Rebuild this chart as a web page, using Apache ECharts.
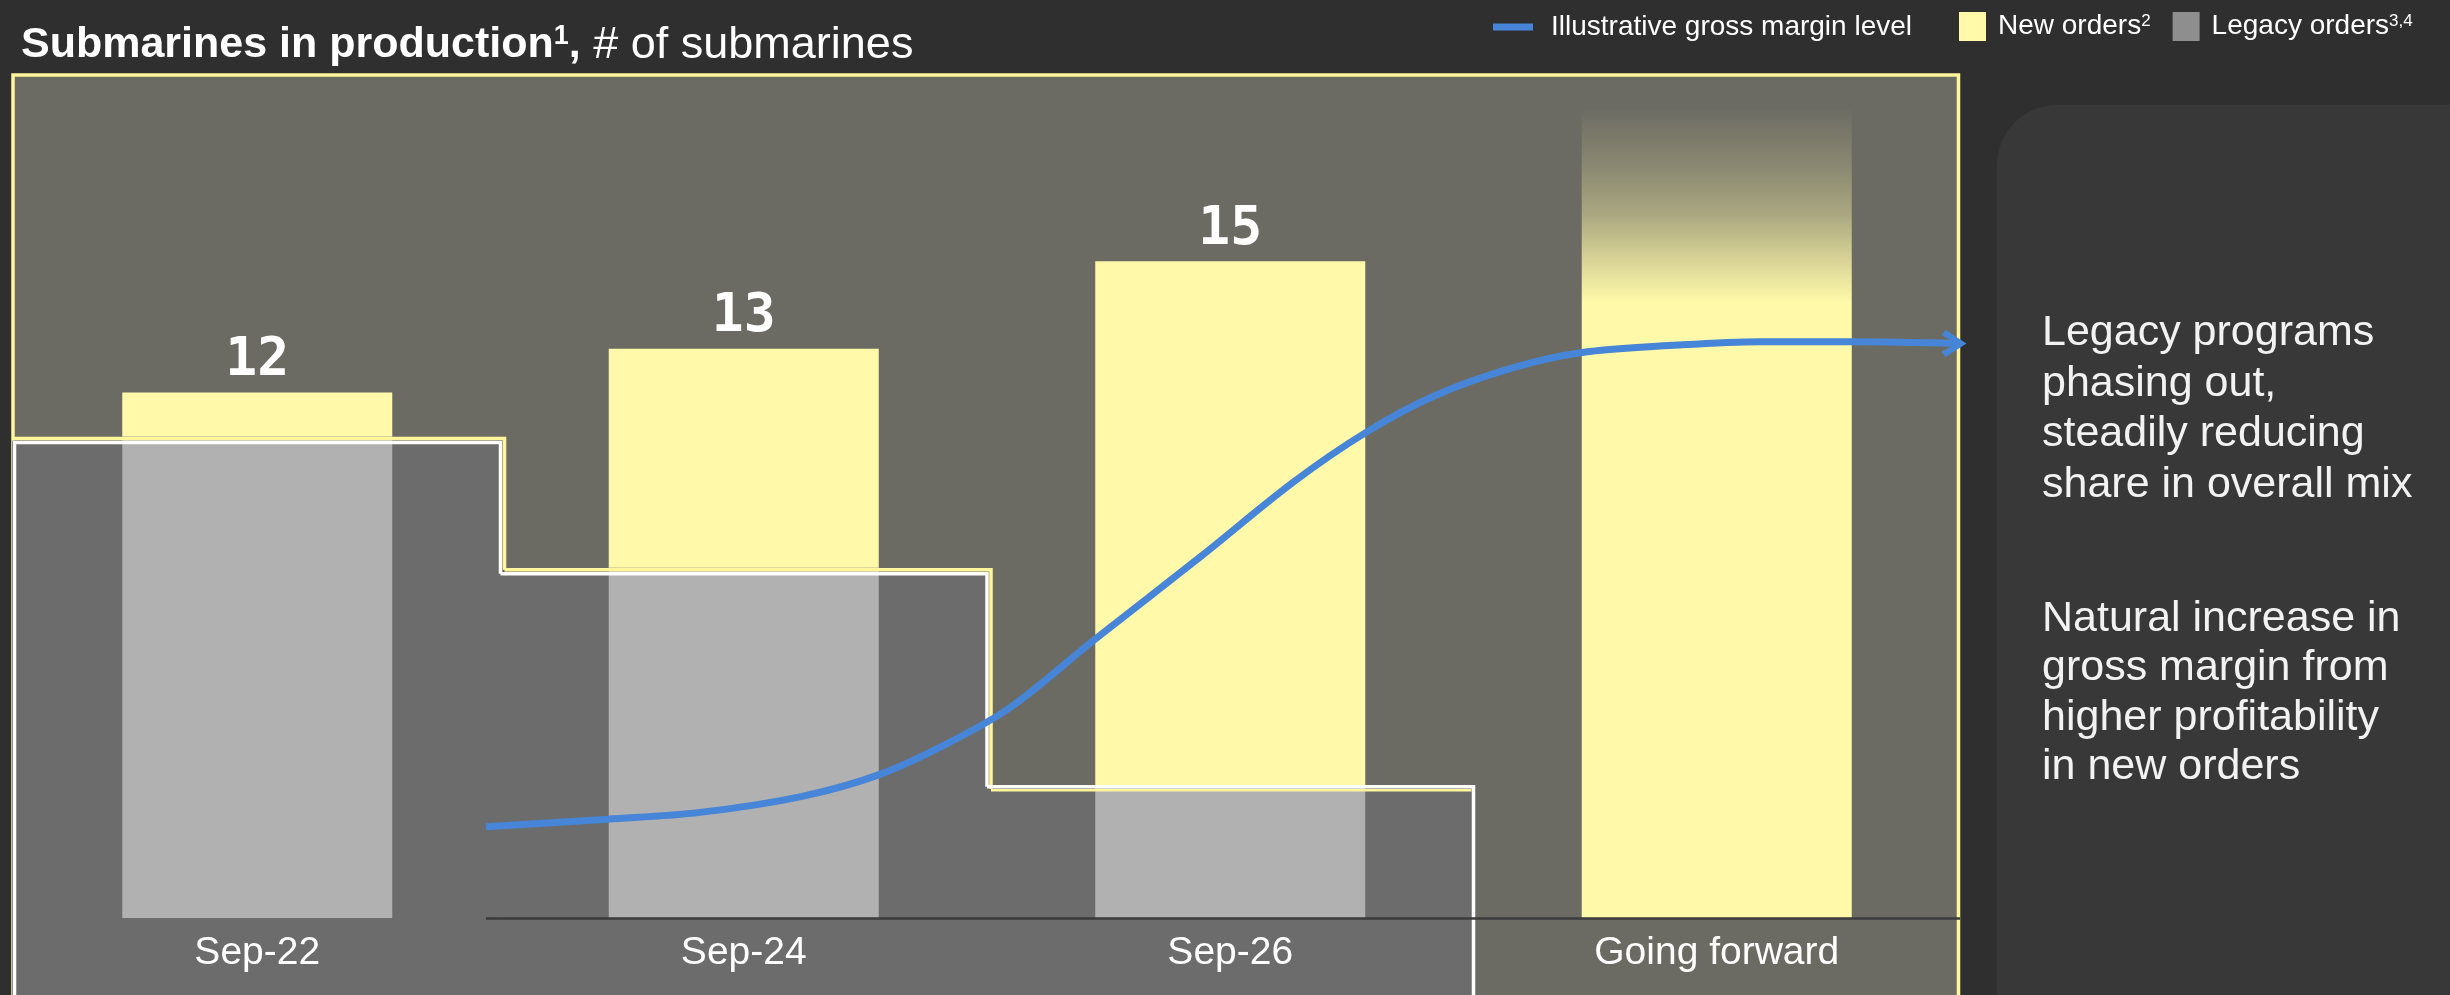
<!DOCTYPE html>
<html>
<head>
<meta charset="utf-8">
<script src="https://cdn.jsdelivr.net/npm/echarts@6/dist/echarts.min.js"></script>
<style>
  html, body { margin: 0; padding: 0; background: #2f2f2f; }
  #chart { width: 2450px; height: 995px; }
</style>
</head>
<body>
<div id="chart"></div>
<script>
// ---- data ----
const categories = ['Sep-22', 'Sep-24', 'Sep-26', 'Going forward'];
const legacyOrders = [11, 8, 3, 0];
const newOrders = [1, 5, 12, 18.5];
const labelledColumns = 3; // totals are printed above the first three columns

// illustrative gross margin curve: x in category units, level on a 0-100 index
const marginX = [0.47, 0.72, 0.91, 1.12, 1.28, 1.42, 1.55, 1.72, 1.94, 2.13, 2.28, 2.42, 2.58, 2.72, 2.92, 3.09, 3.28, 3.5];
const marginLevel = [10.8, 11.7, 12.5, 14.4, 17.0, 20.7, 25.0, 32.9, 42.8, 51.6, 57.5, 61.8, 65.1, 66.9, 67.8, 68.2, 68.2, 68.0];

const sideNotes = [
  'Legacy programs\nphasing out,\nsteadily reducing\nshare in overall mix',
  'Natural increase in\ngross margin from\nhigher profitability\nin new orders'
];

const totals = legacyOrders.map((v, i) => v + newOrders[i]);

// ---- colours ----
const YELLOW = '#fff9a9';
const BORDER_YELLOW = '#fff59a';
const LEGACY_BAR = '#b1b1b1';
const LEGACY_AREA = '#6c6c6c';
const BLUE = '#4685d7';

const chart = echarts.init(document.getElementById('chart'), null, { renderer: 'canvas' });

// grey stepped zone showing the legacy share of production
function legacyFill(params, api) {
  const i = params.dataIndex;
  const v = api.value(1);
  if (!v) return null;
  const p = api.coord([api.value(0), v]);
  const band = api.size([1, 0])[0];
  const x0 = p[0] - band / 2 - (i === 0 ? 2 : 0);
  const x1 = p[0] + band / 2;
  return {
    type: 'rect',
    shape: { x: x0, y: p[1] + 4, width: x1 - x0, height: 1200 },
    style: { fill: LEGACY_AREA }
  };
}

// white / yellow double outline of the stepped zone
function legacyOutline(params, api) {
  const i = params.dataIndex;
  const v = api.value(1);
  if (!v) return null;
  const p = api.coord([api.value(0), v]);
  const band = api.size([1, 0])[0];
  const x0 = p[0] - band / 2;
  const x1 = p[0] + band / 2;
  const floor = 1300;
  const next = legacyOrders[i + 1] || 0;
  const yNext = next ? api.coord([i + 1, next])[1] : null;
  const nextIsLast = next && !(legacyOrders[i + 2] || 0);

  const lastStep = yNext === null;
  const wy = lastStep ? p[1] : p[1] + 6;
  const yy = lastStep ? p[1] + 3.5 : p[1] + 2;
  const wNext = yNext === null ? floor : (nextIsLast ? yNext : yNext + 6);

  const white = [];
  if (i === 0) white.push([x0 + 0.5, floor]);
  white.push([i === 0 ? x0 + 0.5 : x0, wy], [x1, wy], [x1, wNext]);

  const yellow = [[i === 0 ? x0 - 2 : x0 + 4, yy], [lastStep ? x1 - 2 : x1 + 4, yy]];
  if (!lastStep) yellow.push([x1 + 4, yNext + 2]);

  return {
    type: 'group',
    children: [
      { type: 'polyline', shape: { points: yellow }, style: { stroke: BORDER_YELLOW, lineWidth: lastStep ? 2.5 : 3.5, fill: null } },
      { type: 'polyline', shape: { points: white }, style: { stroke: '#ffffff', lineWidth: 3.5, fill: null } }
    ]
  };
}

const chevron = 'path://M4,0 L25,13 L4,26 L0,21 L15,13 L0,5 Z';
const marginData = marginX.map((x, i) => {
  const last = i === marginX.length - 1;
  return last
    ? { value: [x, marginLevel[i]], symbol: chevron, symbolSize: [25, 27], symbolOffset: [-6, 0] }
    : { value: [x, marginLevel[i]], symbol: 'none' };
});

const newOrderData = newOrders.map((v, i) => {
  if (i < labelledColumns) return { value: v };
  return {
    value: v,
    label: { show: false },
    itemStyle: {
      color: new echarts.graphic.LinearGradient(0, 0, 0, 1, [
        { offset: 0, color: 'rgba(255,249,169,0)' },
        { offset: 0.07, color: 'rgba(255,249,169,0.2)' },
        { offset: 0.13, color: 'rgba(255,249,169,0.42)' },
        { offset: 0.19, color: 'rgba(255,249,169,0.75)' },
        { offset: 0.24, color: 'rgba(255,249,169,1)' },
        { offset: 1, color: 'rgba(255,249,169,1)' }
      ])
    }
  };
});

const baseFont = '"Liberation Sans", Arial, sans-serif';

const option = {
  backgroundColor: '#2f2f2f',
  animation: false,
  title: {
    left: 16,
    top: 18,
    text: '{b|Submarines in production}{s|1}{b|,}{r| # of submarines}',
    textStyle: {
      rich: {
        b: { fontFamily: baseFont, fontWeight: 'bold', fontSize: 43, color: '#ffffff' },
        s: { fontFamily: baseFont, fontWeight: 'bold', fontSize: 27, color: '#ffffff', verticalAlign: 'top' },
        r: { fontFamily: baseFont, fontWeight: 'normal', fontSize: 45, color: '#ffffff' }
      }
    }
  },
  legend: [
    {
      left: 1488,
      top: 8,
      selectedMode: false,
      data: [{ name: 'Illustrative gross margin level', icon: 'rect' }],
      itemWidth: 40,
      itemHeight: 7,
      textStyle: { color: '#ffffff', fontSize: 28, fontFamily: baseFont, padding: [0, 0, 0, 13] }
    },
    {
      left: 1954,
      top: 7,
      selectedMode: false,
      icon: 'rect',
      itemWidth: 27,
      itemHeight: 29,
      itemGap: 22,
      data: [
        { name: 'New orders' },
        { name: 'Legacy orders', itemStyle: { color: '#8e8e8e' } }
      ],
      formatter: name => name === 'New orders' ? 'New orders{sup|2}' : 'Legacy orders{sup|3,4}',
      textStyle: {
        color: '#ffffff', fontSize: 28, fontFamily: baseFont, padding: [0, 0, 0, 7],
        rich: {
          sup: { color: '#ffffff', fontSize: 17, fontFamily: baseFont, verticalAlign: 'top' }
        }
      }
    }
  ],
  grid: { left: 14, right: 490, top: 73, bottom: 77, containLabel: false },
  xAxis: [
    {
      type: 'category',
      data: categories,
      z: 10,
      axisLine: { show: false },
      axisTick: { show: false },
      axisLabel: { color: '#ffffff', fontSize: 39, fontFamily: baseFont, margin: 16 }
    },
    { type: 'value', min: -0.5, max: 3.5, show: false }
  ],
  yAxis: [
    { type: 'value', min: 0, max: 19.3, show: false, splitLine: { show: false } },
    { type: 'value', min: 0, max: 100, show: false, splitLine: { show: false } }
  ],
  graphic: [
    {
      type: 'rect', z: -10,
      shape: { x: 13, y: 75, width: 1945.5, height: 1100 },
      style: { fill: '#6c6b63', stroke: BORDER_YELLOW, lineWidth: 3.5 }
    },
    {
      type: 'rect', z: -10,
      shape: { x: 1997, y: 105, width: 600, height: 1100, r: [60, 0, 0, 60] },
      style: { fill: '#383838' }
    },
    {
      type: 'text', z: 10,
      style: {
        text: sideNotes[0], x: 2042, y: 308, fill: '#f2f2f2',
        fontSize: 43, fontFamily: baseFont, lineHeight: 50.5, verticalAlign: 'top'
      }
    },
    {
      type: 'text', z: 10,
      style: {
        text: sideNotes[1], x: 2042, y: 594, fill: '#f2f2f2',
        fontSize: 43, fontFamily: baseFont, lineHeight: 49.5, verticalAlign: 'top'
      }
    }
  ],
  series: [
    {
      name: 'Legacy zone',
      type: 'custom',
      z: 1,
      silent: true,
      xAxisIndex: 0, yAxisIndex: 0,
      data: legacyOrders.map((v, i) => [i, v]),
      encode: { x: 0, y: 1 },
      renderItem: legacyFill
    },
    {
      name: 'Legacy orders',
      type: 'bar',
      stack: 'mix',
      z: 2,
      barWidth: 270,
      xAxisIndex: 0, yAxisIndex: 0,
      itemStyle: { color: LEGACY_BAR },
      data: legacyOrders
    },
    {
      name: 'New orders',
      type: 'bar',
      stack: 'mix',
      z: 2,
      barWidth: 270,
      xAxisIndex: 0, yAxisIndex: 0,
      itemStyle: { color: YELLOW },
      label: {
        show: true,
        position: 'top',
        distance: 5,
        color: '#ffffff',
        fontSize: 53,
        fontWeight: 'bold',
        fontFamily: '"DejaVu Sans Mono", monospace',
        formatter: p => String(totals[p.dataIndex])
      },
      data: newOrderData
    },
    {
      name: 'Legacy outline',
      type: 'custom',
      z: 3,
      silent: true,
      xAxisIndex: 0, yAxisIndex: 0,
      data: legacyOrders.map((v, i) => [i, v]),
      encode: { x: 0, y: 1 },
      renderItem: legacyOutline
    },
    {
      name: 'Illustrative gross margin level',
      type: 'line',
      z: 5,
      xAxisIndex: 1, yAxisIndex: 1,
      smooth: 0.35,
      lineStyle: { color: BLUE, width: 7 },
      itemStyle: { color: BLUE },
      data: marginData,
      markLine: {
        silent: true,
        symbol: 'none',
        label: { show: false },
        lineStyle: { color: '#3b3b3b', width: 2.5, type: 'solid' },
        data: [[{ coord: [marginX[0], 0] }, { coord: [3.5, 0] }]]
      }
    }
  ]
};

chart.setOption(option);
</script>
</body>
</html>
